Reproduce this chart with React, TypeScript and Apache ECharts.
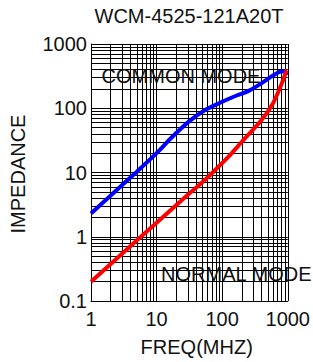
import React, { useEffect, useRef } from "react";
import * as echarts from "echarts";

const freqCommon = [1, 2, 5, 10, 17.4, 31, 55, 100, 166, 249, 396, 561, 750, 891, 977];
const zCommon = [2.3, 4.4, 10.3, 20, 36, 62, 94, 126, 158, 185, 244, 310, 368, 375, 329];
const freqNormal = [1, 3, 10, 30, 55, 100, 125, 176, 222, 396, 594, 794, 944, 977];
const zNormal = [0.2, 0.55, 1.65, 4.5, 7.7, 14, 17.6, 26, 34, 65, 119, 230, 370, 390];
const xTickLabels = ["1", "10", "100", "1000"];
const yTickLabels = ["0.1", "1", "10", "100", "1000"];
const xMinorGrid = [2, 3, 4, 5, 6, 7, 8, 9, 20, 30, 40, 50, 60, 70, 80, 90, 200, 300, 400, 500, 600, 700, 800, 900];
const yMinorGrid = [0.2, 0.3, 0.4, 0.5, 0.6, 0.7, 0.8, 0.9, 2, 3, 4, 5, 6, 7, 8, 9, 20, 30, 40, 50, 60, 70, 80, 90, 200, 300, 400, 500, 600, 700, 800, 900];

const FONT = "'Liberation Sans', Arial, sans-serif";

export default function App() {
  const ref = useRef<HTMLDivElement>(null);
  useEffect(() => {
    if (!ref.current) return;
    const chart = echarts.init(ref.current, undefined, { renderer: "svg" });
    const fmt = (labels: string[]) => (v: number) => {
      const s = labels.find((l) => Math.abs(parseFloat(l) - v) < 1e-9 * Math.max(1, v));
      return s !== undefined ? s : "";
    };
    chart.setOption({
      animation: false,
      backgroundColor: "#ffffff",
      grid: { left: 91, top: 44, width: 199, height: 257, containLabel: false },
      xAxis: {
        type: "log",
        logBase: 10,
        min: 1,
        max: 1000,
        axisLine: { show: true, lineStyle: { color: "#000", width: 1 } },
        axisTick: { show: false },
        axisLabel: { color: "#111", fontSize: 20, fontFamily: FONT, margin: 8, formatter: fmt(xTickLabels), showMinLabel: true, showMaxLabel: true },
        splitLine: { show: true, lineStyle: { color: "#000", width: 1 } },
      },
      yAxis: {
        type: "log",
        logBase: 10,
        min: 0.1,
        max: 1000,
        axisLine: { show: true, lineStyle: { color: "#000", width: 1 } },
        axisTick: { show: false },
        axisLabel: { color: "#111", fontSize: 20, fontFamily: FONT, margin: 4, formatter: fmt(yTickLabels) },
        splitLine: { show: true, lineStyle: { color: "#000", width: 1 } },
      },
      graphic: [
        { type: "text", x: 189, y: 15.5, style: { text: "WCM-4525-121A20T", font: `20px ${FONT}`, fill: "#111", align: "center", verticalAlign: "middle" } },
        { type: "text", x: 181, y: 75.8, z: 10, style: { text: "COMMON MODE", font: `20px ${FONT}`, fill: "#111", align: "center", verticalAlign: "middle" } },
        { type: "text", x: 236.3, y: 274.2, z: 10, style: { text: "NORMAL MODE", font: `20px ${FONT}`, fill: "#111", align: "center", verticalAlign: "middle" } },
        { type: "text", x: 196.7, y: 346.5, style: { text: "FREQ(MHZ)", font: `20px ${FONT}`, fill: "#111", align: "center", verticalAlign: "middle" } },
        { type: "text", x: 18, y: 174, rotation: Math.PI / 2, style: { text: "IMPEDANCE", font: `20px ${FONT}`, fill: "#111", align: "center", verticalAlign: "middle" } },
      ],
      series: [
        {
          type: "line",
          data: [],
          silent: true,
          z: 1,
          markLine: {
            silent: true,
            symbol: ["none", "none"],
            label: { show: false },
            lineStyle: { color: "#000", width: 1, type: "solid" },
            data: [
              ...xMinorGrid.map((v) => ({ xAxis: v })),
              ...yMinorGrid.map((v) => ({ yAxis: v })),
            ],
          },
        },
        {
          type: "line",
          name: "COMMON MODE",
          data: freqCommon.map((f, i) => [f, zCommon[i]]),
          smooth: 0.3,
          showSymbol: false,
          z: 5,
          lineStyle: { color: "#0000ff", width: 4 },
          itemStyle: { color: "#0000ff" },
        },
        {
          type: "line",
          name: "NORMAL MODE",
          data: freqNormal.map((f, i) => [f, zNormal[i]]),
          smooth: 0.3,
          showSymbol: false,
          z: 5,
          lineStyle: { color: "#ff0000", width: 4 },
          itemStyle: { color: "#ff0000" },
        },
      ],
    });
    return () => chart.dispose();
  }, []);
  return <div ref={ref} style={{ position: "absolute", left: 0, top: 0, width: 313, height: 362 }} />;
}
